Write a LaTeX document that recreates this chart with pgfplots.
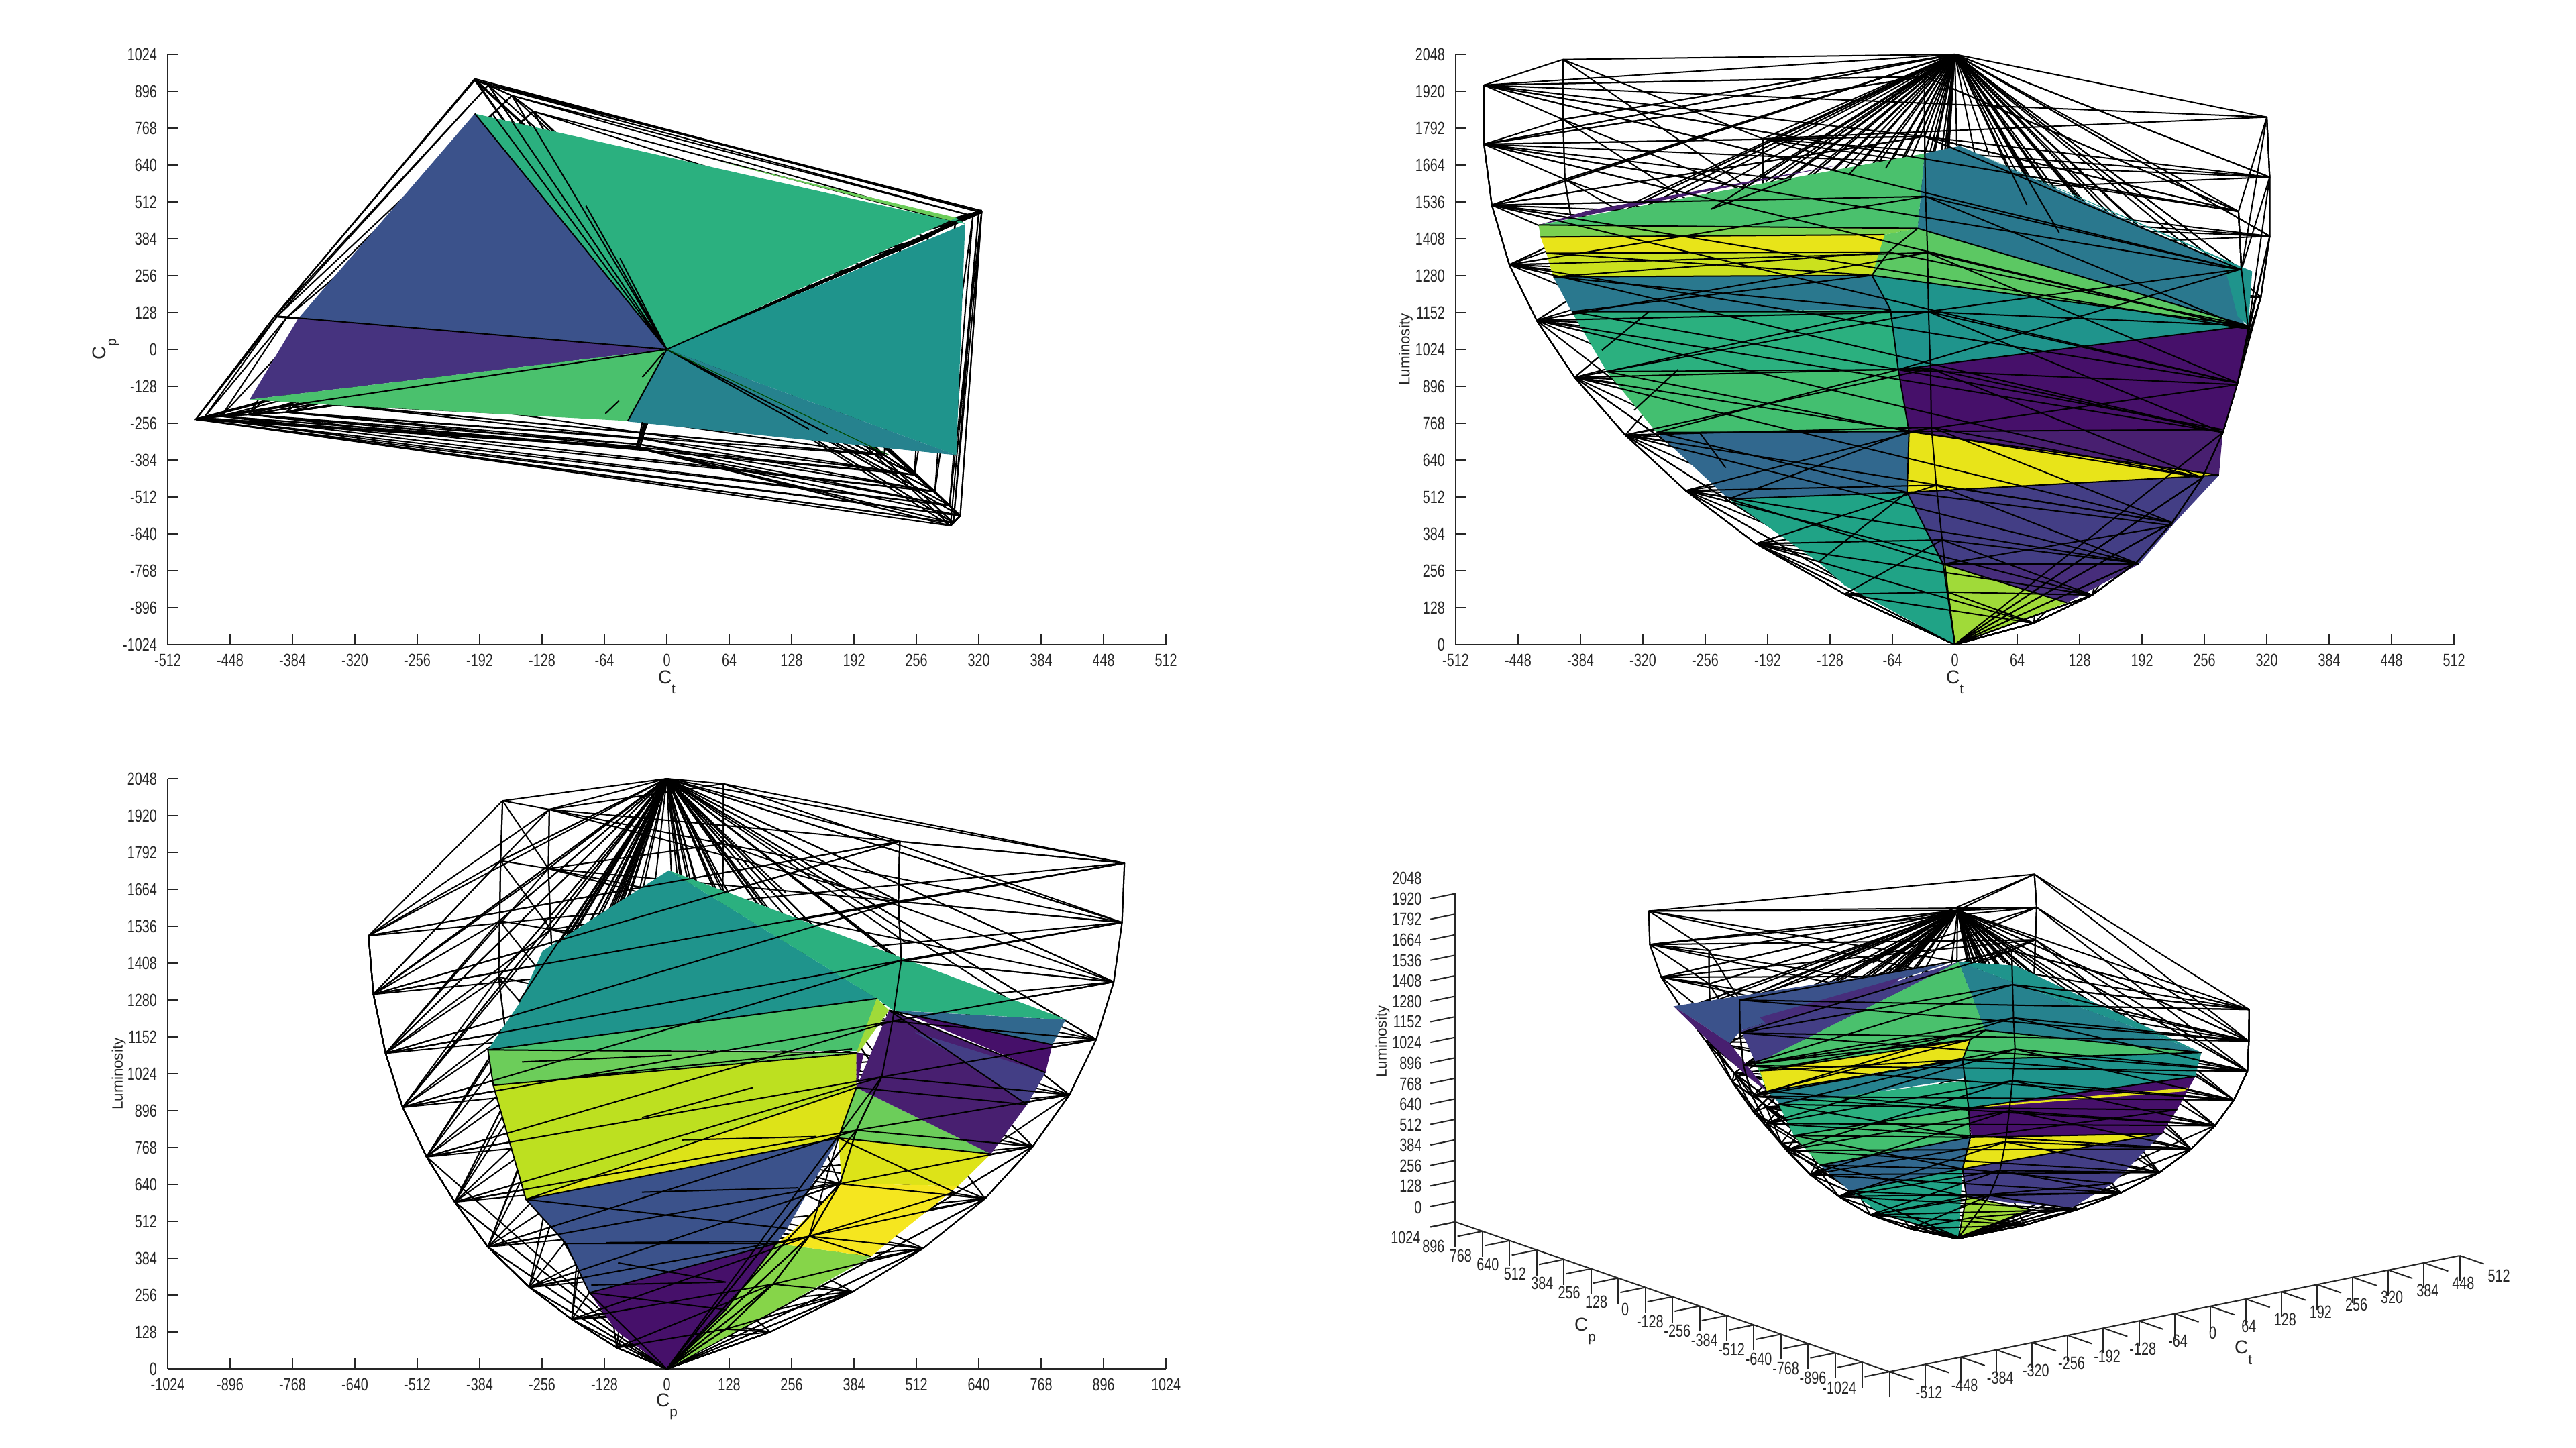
\documentclass[border=0pt]{standalone}
\usepackage{pgfplots}
\usepackage{pgfplotstable}
\usepackage{fontspec}
\pgfplotsset{compat=1.18}
\setmainfont[FakeStretch=0.75]{Liberation Sans}
\newfontfamily\labf{Liberation Sans}
\definecolor{axc}{HTML}{262626}
\pgfplotstableread{
ct cp lum
-197 939 1755
-197 934 1549
-183 917 1343
-159 881 1143
-137 826 951
-115 751 772
-95 653 591
-72 526 418
-50 381 267
-27 212 128
320 478 1830
323 475 1622
323 481 1417
314 463 1206
296 441 1013
268 389 828
240 355 642
200 292 460
150 218 294
83 121 138
291 -612 1503
294 -602 1300
301 -577 1095
290 -542 908
275 -493 736
254 -435 579
223 -367 423
186 -282 283
141 -195 172
81 -103 74
-31 -337 1971
-31 -341 1763
-30 -343 1555
-28 -345 1360
-27 -330 1155
-25 -310 958
-24 -290 754
-19 -250 553
-13 -185 363
-7 -95 182
-483 -241 1941
-483 -243 1736
-475 -238 1525
-457 -232 1318
-429 -226 1125
-390 -218 927
-338 -193 727
-276 -165 534
-204 -125 350
-113 -72 175
-402 116 2030
-402 116 1822
-400 114 1614
-390 110 1400
-365 104 1190
-330 95 980
-285 82 760
-225 65 560
-160 46 370
-88 25 180
0 0 2048
0 0 0
-59 245 1650
-118 490 1480
-167 695 1290
92 130 1600
184 261 1470
260 370 1320
90 -110 1550
181 -220 1350
256 -312 1180
-12 -126 1450
-22 -227 1150
-128 -52 1640
-256 -104 1560
-363 -148 1480
-113 32 1650
-227 65 1570
-321 92 1490
-60 -150 1250
150 -200 1200
200 200 1250
-250 20 1350
-100 300 1350
100 300 1400
50 -300 1200
-300 -50 1300
}\verts
\newcommand\tCED{20 30 31\\21 31 32\\22 32 33\\23 33 34\\24 34 35\\25 35 36\\26 36 37\\27 37 38\\28 38 39\\29 39 61\\
30 40 41\\31 41 42\\32 42 43\\33 43 44\\34 44 45\\35 45 46\\36 46 47\\37 47 48\\38 48 49\\39 49 61\\
40 20 21\\41 21 22\\42 22 23\\43 23 24\\44 24 25\\45 25 26\\46 26 27\\47 27 28\\48 28 29\\49 29 61\\}
\newcommand\tABC{0 10 11\\1 11 12\\2 12 13\\3 13 14\\4 14 15\\5 15 16\\6 16 17\\7 17 18\\8 18 19\\9 19 61\\
10 20 21\\11 21 22\\12 22 23\\13 23 24\\14 24 25\\15 25 26\\16 26 27\\17 27 28\\18 28 29\\19 29 61\\}
\newcommand\tRest{40 50 51\\41 51 52\\42 52 53\\43 53 54\\44 54 55\\45 55 56\\46 56 57\\47 57 58\\48 58 59\\49 59 61\\
50 0 1\\51 1 2\\52 2 3\\53 3 4\\54 4 5\\55 5 6\\56 6 7\\57 7 8\\58 8 9\\59 9 61\\
0 20 21\\1 21 22\\2 22 23\\3 23 24\\4 24 25\\5 25 26\\6 26 27\\7 27 28\\8 28 29\\9 29 61\\
40 10 11\\41 11 12\\42 12 13\\43 13 14\\44 14 15\\45 15 16\\46 16 17\\47 17 18\\48 18 19\\49 19 61\\}
\newcommand\tApex{60 0 1\\60 1 2\\60 2 3\\60 3 4\\60 4 5\\60 5 6\\60 10 11\\60 11 12\\60 12 13\\60 13 14\\60 14 15\\60 15 16\\
60 20 21\\60 21 22\\60 22 23\\60 23 24\\60 24 25\\60 25 26\\60 30 31\\60 31 32\\60 32 33\\60 33 34\\60 34 35\\60 35 36\\
60 40 41\\60 41 42\\60 42 43\\60 43 44\\60 44 45\\60 45 46\\60 50 51\\60 51 52\\60 52 53\\60 53 54\\60 54 55\\60 55 56\\}
\newcommand\tInner{60 62 62\\60 63 63\\60 64 64\\60 65 65\\60 66 66\\60 67 67\\60 68 68\\60 69 69\\60 70 70\\60 71 71\\60 72 72\\60 73 73\\
60 74 74\\60 75 75\\60 76 76\\60 77 77\\60 78 78\\60 79 79\\60 80 80\\60 81 81\\60 82 82\\60 83 83\\60 84 84\\60 85 85\\60 86 86\\}
\newcommand\tOrg{61 4 5\\61 5 6\\61 6 7\\61 7 8\\61 8 9\\61 14 15\\61 15 16\\61 16 17\\61 17 18\\61 18 19\\
61 24 25\\61 25 26\\61 26 27\\61 27 28\\61 28 29\\61 34 35\\61 35 36\\61 36 37\\61 37 38\\61 38 39\\
61 44 45\\61 45 46\\61 46 47\\61 47 48\\61 48 49\\61 54 55\\61 55 56\\61 56 57\\61 57 58\\61 58 59\\}
\newcommand\tOrgC{61 24 25\\61 25 26\\61 26 27\\61 27 28\\61 28 29\\}
\newcommand\tOrgB{61 14 15\\61 15 16\\61 16 17\\61 17 18\\61 18 19\\}
\tikzset{wire/.style={black,line width=0.5pt,line join=round}}
\newcommand\wm[3]{\addplot[patch,mesh,black,patch type=triangle,line width=0.5pt,table/row sep=\\,patch table/.expand once=#1] table[x=#2,y=#3]{\verts};}
\newcommand\wmt[1]{\addplot3[patch,mesh,black,patch type=triangle,line width=0.5pt,table/row sep=\\,patch table/.expand once=#1] table[x=ct,y=cp,z=lum]{\verts};}
\newcommand\pl[2]{\addplot[fill=#1,draw=none] coordinates {#2} --cycle;}
\newcommand\plt[2]{\addplot3[fill=#1,draw=none] coordinates {#2} --cycle;}
\newcommand\Csub[1]{{\labf\fontsize{7pt}{8pt}\selectfont C\raisebox{-1.05ex}{\fontsize{5.2pt}{6pt}\selectfont #1}}}
\pgfplotsset{
 base/.style={
  scale only axis,clip=false,
  axis x line*=bottom,axis y line*=left,
  axis line style={axc,line width=0.5pt,-},
  tick style={axc,line width=0.5pt},
  tick align=inside,major tick length=4pt,
  tick label style={font=\fontsize{6.6pt}{7pt}\selectfont,text=axc},
  /pgf/number format/assume math mode=true,
  /pgf/number format/1000 sep={},
  scaled ticks=false,
  unbounded coords=jump,
  xticklabel style={yshift=0pt},
  yticklabel style={xshift=-0.5pt},
  every axis y label/.style={at={(axis description cs:#1,0.5)},anchor=center,rotate=90,text=axc},
  every axis x label/.style={at={(axis description cs:0.5,-0.064)},anchor=center,text=axc},
 },
 ctx/.style={xmin=-512,xmax=512,xtick={-512,-448,...,512},xlabel={\Csub{t}}},
 cpx/.style={xmin=-1024,xmax=1024,xtick={-1024,-896,...,1024},xlabel={\Csub{p}}},
 lumy/.style={ymin=0,ymax=2048,ytick={0,128,...,2048},ylabel={\labf\fontsize{5.6pt}{6pt}\selectfont Luminosity}},
}
\definecolor{vA}{HTML}{3B528B}
\definecolor{vB}{HTML}{46337F}
\definecolor{vC}{HTML}{2BB07F}
\definecolor{vD}{HTML}{1F948C}
\definecolor{vE}{HTML}{26828E}
\definecolor{vF}{HTML}{4AC16D}
\definecolor{vG}{HTML}{6CCD5A}
\definecolor{vH}{HTML}{7AD151}
\definecolor{vI}{HTML}{E8E419}
\definecolor{vJ}{HTML}{CBE11E}
\definecolor{vK}{HTML}{2A788E}
\definecolor{vL}{HTML}{43BF70}
\definecolor{vM}{HTML}{31688E}
\definecolor{vN}{HTML}{20A386}
\definecolor{vO}{HTML}{46106A}
\definecolor{vP}{HTML}{481F70}
\definecolor{vQ}{HTML}{433E85}
\definecolor{vR}{HTML}{472D7B}
\definecolor{vS}{HTML}{A0DA39}
\definecolor{vT}{HTML}{5CC863}
\definecolor{vU}{HTML}{BDE020}
\definecolor{vV}{HTML}{DDE318}
\definecolor{vW}{HTML}{F5E61F}
\definecolor{vX}{HTML}{86D549}
\begin{document}
\begin{tikzpicture}[x=1pt,y=1pt]
\path[use as bounding box] (0pt,0pt) rectangle (960pt,539.75pt);
% ---------- Ct / Cp
\begin{axis}[base=-0.062,ctx,at={(62.5pt,299.5pt)},anchor=south west,width=372pt,height=220pt,
 ymin=-1024,ymax=1024,ytick={-1024,-896,...,1024},ylabel={\Csub{p}}]
\wm{\tRest}{ct}{cp}
\wm{\tCED}{ct}{cp}
\wm{\tABC}{ct}{cp}
\wm{\tApex}{ct}{cp}
\wm{\tOrg}{ct}{cp}
\pl{vA}{(-197,818) (0,0) (-378,108)}
\pl{vB}{(-378,108) (0,0) (-428,-174)}
\pl{vC}{(-197,818) (306,435) (297,457) (0,0)}
\pl{vG}{(53,653) (297,457) (291,447)}
\pl{vD}{(0,0) (306,435) (297,-367)}
\pl{vE}{(0,0) (297,-367) (-40,-250)}
\pl{vF}{(0,0) (-428,-174) (-342,-193) (-40,-248)}
\addplot[wire] coordinates {(-403,116) (0,0) (nan,nan) (-485,-243) (0,0) (nan,nan) (323,484) (0,0) (nan,nan)
 (-31,-341) (-25,-252) (nan,nan) (-40,-248) (0,0) (nan,nan) (-197,818) (0,0) (nan,nan) (-178,813) (0,0) (nan,nan) (-159,791) (0,0) (nan,nan)
 (-137,776) (0,0) (nan,nan) (-83,499) (0,0) (nan,nan) (-48,316) (0,0) (nan,nan) (165,-292) (0,0) (nan,nan) (146,-277) (0,0) (nan,nan)
 (-25,-96) (-3,-10) (nan,nan) (-63,-223) (-49,-178)};
\addplot[black!70!green,line width=0.3pt] coordinates {(228,-367) (0,0)};
\end{axis}
% ---------- Ct / L
\begin{axis}[base=-0.05,ctx,lumy,at={(542.5pt,299.5pt)},anchor=south west,width=372pt,height=220pt]
\wm{\tRest}{ct}{lum}
\wm{\tCED}{ct}{lum}
\wm{\tABC}{ct}{lum}
\wm{\tApex}{ct}{lum}
\wm{\tInner}{ct}{lum}
\wm{\tOrg}{ct}{lum}
\pl{vF}{(-427,1456) (-31,1704) (-38,1444)}
\pl{vP}{(-427,1456) (-109,1670) (-377,1505)}
\pl{vK}{(5,1730) (279,1318) (297,1110) (-38,1444) (-31,1704)}
\pl{vD}{(5,1730) (305,1295) (301,1106) (290,1140) (275,1333)}
\pl{vH}{(-427,1456) (-38,1444) (-72,1422) (-425,1414)}
\pl{vI}{(-425,1414) (-72,1422) (-68,1362) (-419,1358)}
\pl{vJ}{(-419,1358) (-68,1362) (-85,1281) (-412,1276)}
\pl{vT}{(-38,1444) (301,1106) (-85,1281) (-72,1422)}
\pl{vK}{(-412,1276) (-85,1281) (-66,1162) (-393,1155)}
\pl{vD}{(-85,1281) (301,1106) (-58,954) (-66,1162)}
\pl{vC}{(-393,1155) (-66,1162) (-58,954) (-357,947)}
\pl{vL}{(-357,947) (-58,954) (-47,739) (-306,736)}
\pl{vM}{(-306,736) (-47,739) (-49,528) (-232,505)}
\pl{vN}{(-232,505) (-49,528) (-12,279) (0,0) (-113,205) (-140,286)}
\pl{vO}{(-58,954) (301,1106) (290,902) (275,746) (-47,739)}
\pl{vP}{(-47,739) (275,746) (271,588)}
\pl{vI}{(-47,739) (271,588) (-49,528)}
\pl{vQ}{(-49,528) (271,588) (223,413) (189,279) (115,145) (-12,279)}
\pl{vR}{(-12,279) (189,279) (115,145)}
\pl{vS}{(-12,279) (115,145) (0,0)}
\wm{\tCED}{ct}{lum}
\wm{\tOrgC}{ct}{lum}
\addplot[wire] coordinates {(-427,1456) (-38,1444) (nan,nan) (-425,1414) (-72,1422) (nan,nan) (-419,1358) (-68,1362) (nan,nan)
 (-412,1276) (-85,1281) (nan,nan) (-393,1155) (-29,1155) (nan,nan) (-357,947) (-58,954) (nan,nan) (-306,736) (-47,739) (nan,nan) (-232,505) (-49,528) (nan,nan)
 (-419,1358) (-85,1281) (nan,nan) (-412,1276) (-68,1362) (nan,nan) (-412,1276) (-66,1162) (nan,nan) (-393,1155) (-85,1281) (nan,nan)
 (-393,1155) (-58,954) (nan,nan) (-357,947) (-66,1162) (nan,nan) (-357,947) (-47,739) (nan,nan) (-306,736) (-58,954) (nan,nan)
 (-306,736) (-49,528) (nan,nan) (-232,505) (-47,739) (nan,nan) (-232,505) (-12,279) (nan,nan) (-140,286) (-49,528) (nan,nan)
 (-38,1444) (301,1106) (nan,nan) (-68,1362) (301,1106) (nan,nan) (-85,1281) (301,1106) (nan,nan) (-29,1155) (301,1106) (nan,nan) (-29,1155) (294,1303) (nan,nan)
 (-58,954) (294,1303) (nan,nan) (-58,954) (301,1106) (nan,nan) (-58,954) (290,902) (nan,nan) (-47,739) (290,902) (nan,nan) (-58,954) (275,746) (nan,nan)
 (-47,739) (275,746) (nan,nan) (-49,528) (271,588) (nan,nan) (-47,739) (271,588) (nan,nan) (-49,528) (223,413) (nan,nan) (-12,279) (223,413) (nan,nan)
 (-12,279) (189,279) (nan,nan) (-12,279) (115,145) (nan,nan)
 (-38,1444) (-68,1362) (-85,1281) (-66,1162) (-58,954) (-47,739) (-49,528) (-12,279) (0,0) (nan,nan)
 (-250,1511) (-168,1615) (nan,nan) (-314,1155) (-362,1021) (nan,nan) (-284,954) (-329,813) (nan,nan) (-261,732) (-235,613) (nan,nan)
 (0,2048) (-250,1511) (nan,nan) (0,2048) (-194,1607) (nan,nan) (0,2048) (-109,1629) (nan,nan) (0,2048) (-71,1652) (nan,nan)
 (0,2048) (74,1525) (nan,nan) (0,2048) (107,1429) (nan,nan) (0,2048) (35,1700) (nan,nan) (0,2048) (2,1730)};
\end{axis}
% ---------- Cp / L
\begin{axis}[base=-0.049,cpx,lumy,at={(62.5pt,29.5pt)},anchor=south west,width=372pt,height=220pt]
\wm{\tRest}{cp}{lum}
\wm{\tCED}{cp}{lum}
\wm{\tABC}{cp}{lum}
\wm{\tApex}{cp}{lum}
\wm{\tInner}{cp}{lum}
\wm{\tOrg}{cp}{lum}
\pl{vD}{(4,1730) (431,1285) (-367,1107) (-300,1275) (-255,1450)}
\pl{vC}{(4,1730) (821,1211) (464,1244) (431,1285)}
\pl{vF}{(-367,1107) (431,1285) (396,1103)}
\pl{vG}{(-367,1107) (389,1098) (-356,984)}
\pl{vU}{(-356,984) (389,1095) (389,976) (-289,588)}
\pl{vV}{(389,976) (352,801) (-289,588)}
\pl{vA}{(-289,588) (352,801) (247,487) (225,435) (-159,264) (-207,435)}
\pl{vO}{(-159,264) (225,435) (121,205) (0,0) (-103,131)}
\pl{vX}{(225,435) (419,390) (255,234) (0,0) (121,205)}
\pl{vV}{(352,801) (665,746) (598,635) (359,643)}
\pl{vW}{(359,643) (598,635) (478,472) (419,390) (225,435) (255,472)}
\pl{vG}{(389,976) (665,746) (352,801)}
\pl{vP}{(389,976) (456,1244) (777,1028) (739,917) (665,746)}
\pl{vO}{(486,1236) (791,1125) (777,1028)}
\pl{vM}{(456,1244) (818,1211) (791,1125)}
\pl{vQ}{(508,1169) (777,1028) (739,917) (598,1080)}
\pl{vS}{(431,1285) (456,1244) (396,1103) (389,1098)}
\pl{vO}{(389,1095) (404,1095) (389,976)}
\wm{\tABC}{cp}{lum}
\wm{\tOrgB}{cp}{lum}
\addplot[wire] coordinates {(-367,1107) (389,1098) (nan,nan) (-356,984) (389,1095) (nan,nan) (-367,1107) (431,1285) (nan,nan) (-289,588) (389,976) (nan,nan)
 (-289,588) (352,801) (nan,nan) (-207,435) (225,435) (nan,nan) (-289,588) (247,487) (nan,nan) (-159,264) (225,435) (nan,nan) (-159,264) (121,205) (nan,nan)
 (352,801) (665,746) (nan,nan) (352,801) (590,613) (nan,nan) (292,460) (590,613) (nan,nan) (292,460) (419,390) (nan,nan)
 (225,435) (121,205) (0,0) (nan,nan) (389,976) (352,801) (292,460) (225,435) (nan,nan)
 (456,1244) (739,917) (nan,nan) (456,1244) (777,1028) (nan,nan) (456,1244) (791,1125) (nan,nan) (389,976) (739,917) (nan,nan)
 (-367,1107) (-356,984) (-289,588) (-207,435) (-159,264) (0,0) (nan,nan)
 (-297,1065) (9,1088) (nan,nan) (-185,1013) (380,1110) (nan,nan) (-51,872) (176,976) (nan,nan) (31,794) (307,806) (nan,nan)
 (-51,613) (270,628) (nan,nan) (-125,438) (225,442) (nan,nan) (-100,368) (121,301) (nan,nan) (-155,291) (121,301) (nan,nan)
 (0,2048) (-304,1273) (nan,nan) (0,2048) (-220,1480) (nan,nan) (0,2048) (120,1650)};
\end{axis}
% ---------- 3D
\begin{axis}[x={(0.2075pt,0.04225pt)},y={(-0.079pt,0.02725pt)},z={(0pt,0.05975pt)},
 at={(729.5pt,78pt)},anchor=origin,clip=false,
 xmin=-512,xmax=512,ymin=-1024,ymax=1024,zmin=0,zmax=2048,
 xtick={-512,-448,...,512},ytick={-1024,-896,...,1024},ztick={0,128,...,2048},
 axis x line*=bottom,axis y line*=left,axis z line*=left,
 axis line style={axc,line width=0.5pt,-},tick style={axc,line width=0.5pt},
 tick align=outside,major tick length=9.5pt,
 tick label style={font=\fontsize{6.6pt}{7pt}\selectfont,text=axc},
 xticklabel style={xshift=1pt,yshift=2pt},
 yticklabel style={xshift=-3.5pt,yshift=3pt},
 zticklabel style={yshift=2pt},
 /pgf/number format/assume math mode=true,/pgf/number format/1000 sep={},scaled ticks=false,
 unbounded coords=jump]
\wmt{\tRest}
\wmt{\tCED}
\wmt{\tABC}
\wmt{\tApex}
\wmt{\tInner}
\wmt{\tOrg}
\plt{vF}{(2,0,1726) (50,0,1265) (-362,0,1349)}
\plt{vQ}{(2,0,1726) (-362,0,1349) (-389,0,1575)}
\plt{vA}{(-510,0,1811) (-18,0,1728) (-389,0,1575) (-409,0,1509)}
\plt{vR}{(-355,0,1632) (-99,0,1704) (-126,0,1654) (-342,0,1577)}
\plt{vP}{(-510,0,1811) (-409,0,1509) (-342,0,1162) (-369,0,1250) (-436,0,1504)}
\plt{vE}{(2,0,1726) (438,0,852) (50,0,1265)}
\plt{vD}{(2,0,1726) (104,0,1630) (438,0,852)}
\plt{vF}{(-362,0,1349) (50,0,1265) (9,0,1121) (-342,0,1162)}
\plt{vI}{(-355,0,1298) (23,0,1227) (9,0,1121) (-342,0,1162)}
\plt{vF}{(50,0,1265) (438,0,852) (2,0,1103)}
\plt{vE}{(-342,0,1162) (9,0,1110) (36,0,987) (-315,0,1051)}
\plt{vD}{(9,0,1110) (438,0,852) (427,0,710) (20,0,802)}
\plt{vC}{(-321,0,1066) (20,0,975) (20,0,802) (-294,0,851)}
\plt{vL}{(-294,0,851) (20,0,802) (23,0,616) (-247,0,634)}
\plt{vM}{(-247,0,634) (23,0,616) (9,0,430) (-193,0,433)}
\plt{vN}{(-193,0,433) (9,0,430) (2,0,8) (-139,0,257)}
\plt{vO}{(20,0,802) (427,0,710) (394,0,526) (367,0,396) (25,0,614)}
\plt{vI}{(36,0,803) (414,0,650) (407,0,632) (50,0,788)}
\plt{vI}{(25,0,614) (367,0,396) (9,0,430)}
\plt{vQ}{(9,0,430) (367,0,396) (279,0,147) (205,0,49) (90,0,164) (16,0,252)}
\plt{vS}{(16,0,252) (131,0,89) (2,0,8)}
\wmt{\tCED}
\addplot3[wire] coordinates {(-362,0,1349) (50,0,1265) (-355,0,1298) (23,0,1227) (-342,0,1162) (9,0,1110) (-321,0,1066) (20,0,802) (-294,0,851) (23,0,616) (-247,0,634) (9,0,430) (-193,0,433) (16,0,252) (-139,0,257) (2,0,8) (nan,nan,nan)
 (-362,0,1349) (23,0,1227) (-355,0,1298) (9,0,1110) (-342,0,1162) (20,0,802) (-321,0,1066) (23,0,616) (-294,0,851) (9,0,430) (-247,0,634) (16,0,252) (-193,0,433) (2,0,8) (nan,nan,nan)
 (50,0,1265) (438,0,852) (9,0,1110) (427,0,710) (20,0,802) (394,0,526) (23,0,616) (367,0,396) (9,0,430) (279,0,147) (16,0,252) (131,0,89) (2,0,8) (nan,nan,nan)
 (50,0,1265) (23,0,1227) (9,0,1110) (20,0,802) (23,0,616) (9,0,430) (16,0,252) (2,0,8)};
\end{axis}
\node[text=axc] at (590.75pt,43.5pt) {\Csub{p}};
\node[text=axc] at (836pt,35.5pt) {\Csub{t}};
\node[rotate=90,text=axc] at (515.25pt,151.5pt) {\labf\fontsize{5.6pt}{6pt}\selectfont Luminosity};
\end{tikzpicture}
\end{document}
